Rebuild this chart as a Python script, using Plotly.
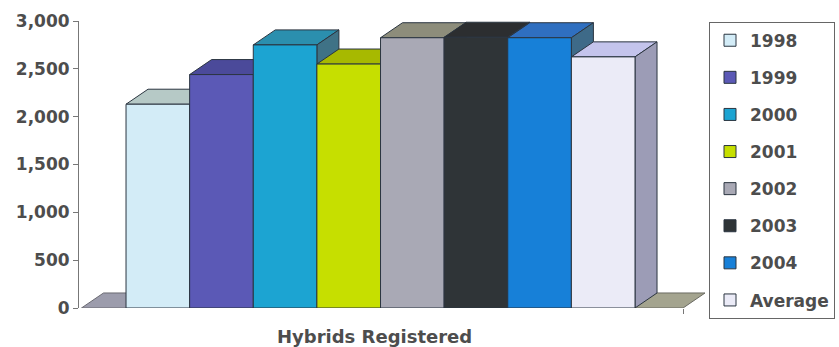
import plotly.graph_objects as go

# ---- data ----
series_names = ["1998", "1999", "2000", "2001", "2002", "2003", "2004", "Average"]
hybrids_registered = [2130, 2440, 2750, 2550, 2825, 2830, 2825, 2625]
category_label = "Hybrids Registered"
y_tick_values = [0, 500, 1000, 1500, 2000, 2500, 3000]

# ---- styles ----
front_colors = ["#d3ecf7", "#5b59b6", "#1ca4d2", "#c6df00", "#a9a9b5", "#2f3437", "#1780d8", "#ebebf7"]
top_colors = ["#b6c9c6", "#4b4a9a", "#2b8fae", "#a7b900", "#8d8d7b", "#2c2e30", "#2f6fc0", "#c4c4ec"]
side_colors = ["#aebfbf", "#3f3e86", "#3f7286", "#8f9e10", "#777768", "#252729", "#3e6a88", "#9c9cb6"]
edge = "#2b3540"
text_col = "#4d4d4d"
font_family = "DejaVu Sans"

# 3D depth offsets (x in bar-width units, y in value units)
DX = 0.346
DY = 157
FLOOR_X0, FLOOR_X1 = -1.2, 8.255
X_RANGE = [-1.239, 8.6]
Y_RANGE = [0, 3000]

fig = go.Figure()

# floor (two tones, split hidden behind bars)
mid = 3.5
fig.add_trace(go.Scatter(
    x=[FLOOR_X0, mid, mid + DX, FLOOR_X0 + DX, FLOOR_X0],
    y=[0, 0, DY, DY, 0], mode="lines", fill="toself",
    fillcolor="#9c9cac", line=dict(color="#6a6a72", width=1),
    hoverinfo="skip", showlegend=False))
fig.add_trace(go.Scatter(
    x=[mid, FLOOR_X1, FLOOR_X1 + DX, mid + DX, mid],
    y=[0, 0, DY, DY, 0], mode="lines", fill="toself",
    fillcolor="#a4a48f", line=dict(color="#6a6a62", width=1),
    hoverinfo="skip", showlegend=False))

# top and side faces, painted left to right
for i, v in enumerate(hybrids_registered):
    L, R = i - 0.5, i + 0.5
    fig.add_trace(go.Scatter(
        x=[L, L + DX, R + DX, R, L], y=[v, v + DY, v + DY, v, v],
        mode="lines", fill="toself", fillcolor=top_colors[i],
        line=dict(color=edge, width=1), hoverinfo="skip", showlegend=False))
    fig.add_trace(go.Scatter(
        x=[R, R + DX, R + DX, R, R], y=[0, DY, v + DY, v, 0],
        mode="lines", fill="toself", fillcolor=side_colors[i],
        line=dict(color=edge, width=1), hoverinfo="skip", showlegend=False))

# front faces (on overlay axis so they sit above the faces)
for i, (name, v) in enumerate(zip(series_names, hybrids_registered)):
    fig.add_trace(go.Bar(
        x=[i], y=[v], width=1, name=name, legendgroup=name,
        marker=dict(color=front_colors[i], line=dict(color=edge, width=1)),
        xaxis="x", yaxis="y2"))

fig.update_layout(
    width=839, height=347,
    margin=dict(l=79, r=134, t=21, b=39, autoexpand=False),
    paper_bgcolor="white", plot_bgcolor="white",
    barmode="overlay",
    font=dict(family=font_family, size=17, color=text_col, weight="bold"),
    xaxis=dict(range=X_RANGE, showgrid=False, zeroline=False, showline=False,
               tickvals=[FLOOR_X1], ticktext=[""], ticks="outside", ticklen=5,
               tickcolor="#777", automargin=False),
    yaxis=dict(range=Y_RANGE, tickvals=y_tick_values, tickformat=",",
               showgrid=False, zeroline=False, showline=True, linecolor="#777",
               linewidth=1, ticks="outside", ticklen=5, tickcolor="#777",
               automargin=False,
               tickfont=dict(family=font_family, size=17, color=text_col, weight="bold")),
    yaxis2=dict(range=Y_RANGE, overlaying="y", visible=False),
    legend=dict(x=1.0064, y=0.9976, xanchor="left", yanchor="top",
                bordercolor="#666", borderwidth=1, bgcolor="white",
                traceorder="grouped", tracegroupgap=12, maxheight=600,
                font=dict(family=font_family, size=17, color=text_col, weight="bold")),
    showlegend=True,
    annotations=[dict(text=category_label, xref="x", yref="paper",
                      x=(len(series_names) - 1) / 2, y=-0.0976, xshift=-6,
                      xanchor="center", yanchor="middle", showarrow=False,
                      font=dict(family=font_family, size=18, color=text_col, weight="bold"))],
)

fig.write_html("out.html")
